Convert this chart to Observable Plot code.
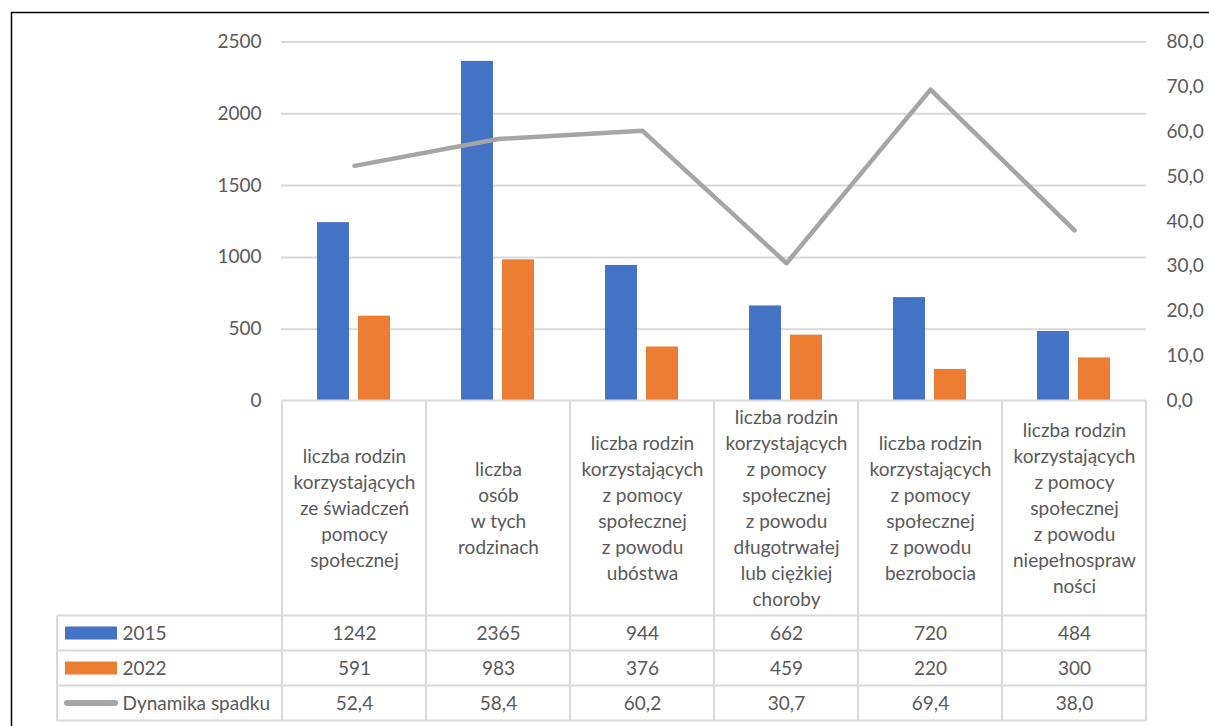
<!DOCTYPE html>
<html>
<head>
<meta charset="utf-8">
<script src="https://cdn.jsdelivr.net/npm/d3@7"></script>
<script src="https://cdn.jsdelivr.net/npm/@observablehq/plot@0.6"></script>
<style>
  html, body { margin: 0; padding: 0; background: #fff; overflow: hidden; }
  #chart svg { display: block; }
</style>
</head>
<body>
<div id="chart"></div>
<script>
// ---- data ----
const categories = [
  "liczba rodzin\nkorzystających\nze świadczeń\npomocy\nspołecznej",
  "liczba\nosób\nw tych\nrodzinach",
  "liczba rodzin\nkorzystających\nz pomocy\nspołecznej\nz powodu\nubóstwa",
  "liczba rodzin\nkorzystających\nz pomocy\nspołecznej\nz powodu\ndługotrwałej\nlub ciężkiej\nchoroby",
  "liczba rodzin\nkorzystających\nz pomocy\nspołecznej\nz powodu\nbezrobocia",
  "liczba rodzin\nkorzystających\nz pomocy\nspołecznej\nz powodu\nniepełnospraw\nności"
];
const seriesNames = ["2015", "2022", "Dynamika spadku"];
const values2015 = [1242, 2365, 944, 662, 720, 484];
const values2022 = [591, 983, 376, 459, 220, 300];
const dynamika = [52.4, 58.4, 60.2, 30.7, 69.4, 38.0];
const leftTicks = [0, 500, 1000, 1500, 2000, 2500];
const rightTicks = [0, 10, 20, 30, 40, 50, 60, 70, 80];
const leftMax = 2500, rightMax = 80;

// ---- styling constants ----
const BLUE = "#4472C4", ORANGE = "#ED7D31", GRAY = "#A5A5A5";
const TEXT = "#595959", GRID = "#D9D9D9";
const FONT = "Lato, 'Open Sans', sans-serif";
const FS = 19;
const HEADER_H = 215, ROW_H = 35, TABLE_LEFT = 57;

const k = leftMax / rightMax; // right-axis value -> left-scale value
const fmt1 = v => v.toFixed(1).replace(".", ",");

const rows = categories.map((c, i) => ({
  cat: c, a: values2015[i], b: values2022[i], d: dynamika[i], dScaled: dynamika[i] * k
}));

function tableGrid(index, scales, values, dims) {
  const x = scales.x, y = scales.y;
  const {width, marginLeft, marginRight} = dims;
  const n = categories.length;
  const bw = x.bandwidth ? x.bandwidth() : (width - marginLeft - marginRight) / n;
  const left = x(categories[0]);
  const right = x(categories[n - 1]) + bw;
  const y0 = y(0);
  const g = d3.create("svg:g");
  const line = (x1, y1, x2, y2, stroke, sw) =>
    g.append("line").attr("x1", x1).attr("y1", y1).attr("x2", x2).attr("y2", y2)
      .attr("stroke", stroke).attr("stroke-width", sw);
  const rowTop = y0 + HEADER_H;
  // horizontal lines
  line(left, y0, right, y0, GRID, 2);
  for (let r = 0; r <= 3; r++) line(TABLE_LEFT, rowTop + r * ROW_H, right, rowTop + r * ROW_H, GRID, 2);
  // vertical lines
  for (let i = 0; i <= n; i++) {
    const xx = i < n ? x(categories[i]) : right;
    line(xx, y0, xx, rowTop + 3 * ROW_H, GRID, 2);
  }
  line(TABLE_LEFT, rowTop, TABLE_LEFT, rowTop + 3 * ROW_H, GRID, 2);
  // legend keys
  const c0 = rowTop + ROW_H / 2;
  g.append("rect").attr("x", TABLE_LEFT + 8).attr("y", c0 - 6.5).attr("width", 52).attr("height", 13).attr("fill", BLUE);
  g.append("rect").attr("x", TABLE_LEFT + 8).attr("y", c0 + ROW_H - 6.5).attr("width", 52).attr("height", 13).attr("fill", ORANGE);
  g.append("line").attr("x1", TABLE_LEFT + 10).attr("x2", TABLE_LEFT + 58)
    .attr("y1", c0 + 2 * ROW_H).attr("y2", c0 + 2 * ROW_H)
    .attr("stroke", GRAY).attr("stroke-width", 6).attr("stroke-linecap", "round");
  // outer chart frame (top and left edges visible)
  g.append("path").attr("d", `M11.5,${dims.height}V12.5H${width}`)
    .attr("fill", "none").attr("stroke", "#000").attr("stroke-width", 1.5);
  return g.node();
}

const valueRow = (field, rowIdx, format) =>
  Plot.text(rows, {
    x: "cat", text: d => format(d[field]), frameAnchor: "bottom", lineAnchor: "middle",
    dy: HEADER_H + ROW_H * rowIdx + ROW_H / 2, fill: TEXT, fontSize: FS
  });

const labelRow = (rowIdx) =>
  Plot.text([seriesNames[rowIdx]], {
    text: d => d, frameAnchor: "bottom-left", textAnchor: "start", lineAnchor: "middle",
    dx: -(281 - 122), dy: HEADER_H + ROW_H * rowIdx + ROW_H / 2, fill: TEXT, fontSize: FS
  });

const chart = Plot.plot({
  width: 1209,
  height: 726,
  marginTop: 41.5,
  marginBottom: 325.5,
  marginLeft: 281,
  marginRight: 63,
  style: {fontFamily: FONT, fontSize: FS + "px", color: TEXT, background: "#fff"},
  x: {type: "band", domain: categories, paddingInner: 0, paddingOuter: 0, axis: null},
  y: {domain: [0, leftMax], axis: null},
  marks: [
    Plot.ruleY(leftTicks.filter(d => d > 0), {stroke: GRID, strokeWidth: 2}),
    Plot.axisY(leftTicks, {anchor: "left", tickSize: 0, tickPadding: 20, label: null, fontSize: FS, fill: TEXT,
      tickFormat: d => String(d)}),
    Plot.axisY(rightTicks.map(v => v * k), {
      anchor: "right", tickSize: 0, tickPadding: 20, label: null, fontSize: FS, fill: TEXT,
      tickFormat: d => fmt1(d / k), textAnchor: "start"
    }),
    Plot.barY(rows, {x: "cat", y: "a", fill: BLUE, insetLeft: 35, insetRight: 77}),
    Plot.barY(rows, {x: "cat", y: "b", fill: ORANGE, insetLeft: 76, insetRight: 36}),
    Plot.lineY(rows, {x: "cat", y: "dScaled", stroke: GRAY, strokeWidth: 4.5,
      strokeLinecap: "round", strokeLinejoin: "round"}),
    tableGrid,
    Plot.text(rows, {
      x: "cat", text: "cat", frameAnchor: "bottom", dy: HEADER_H / 2 - 1.5,
      lineAnchor: "middle", lineHeight: 1.37, fill: TEXT, fontSize: FS
    }),
    valueRow("a", 0, v => String(v)),
    valueRow("b", 1, v => String(v)),
    valueRow("d", 2, fmt1),
    labelRow(0), labelRow(1), labelRow(2)
  ]
});
document.getElementById("chart").appendChild(chart);
</script>
</body>
</html>
